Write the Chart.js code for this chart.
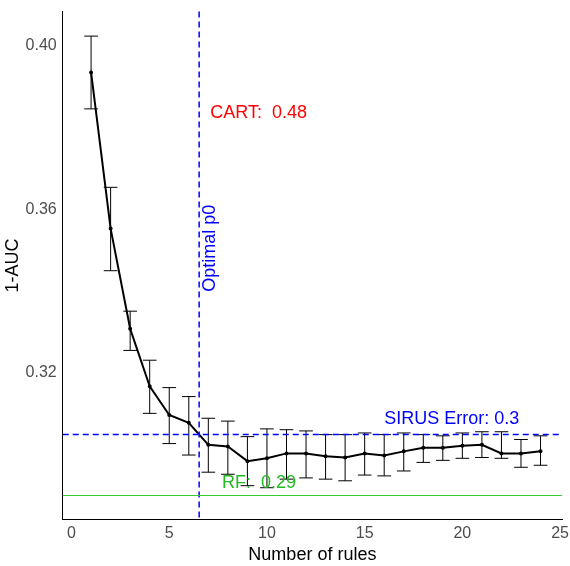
<!DOCTYPE html><html><head><style>body{margin:0;background:#fff}#w{width:570px;height:566px}</style>
<script src="https://cdn.jsdelivr.net/npm/chart.js@4"></script></head><body><div id="w"><canvas id="c"></canvas></div>
<script>
const rules=[1,2,3,4,5,6,7,8,9,10,11,12,13,14,15,16,17,18,19,20,21,22,23,24];
const err=[0.3935,0.3553,0.3308,0.3167,0.3097,0.3078,0.3024,0.3020,0.2984,0.2991,0.3003,0.3003,0.2996,0.2993,0.3003,0.2998,0.3008,0.3017,0.3017,0.3022,0.3024,0.3003,0.3003,0.3008];
const lo=[0.3846,0.3450,0.3255,0.3101,0.3027,0.2999,0.2957,0.2952,0.2924,0.2919,0.2940,0.2943,0.2940,0.2936,0.2950,0.2948,0.2960,0.2981,0.2986,0.2991,0.2993,0.2991,0.2969,0.2974];
const hi=[0.4024,0.3654,0.3351,0.3231,0.3164,0.3142,0.3089,0.3082,0.3044,0.3063,0.3061,0.3058,0.3049,0.3049,0.3053,0.3049,0.3053,0.3049,0.3046,0.3053,0.3056,0.3056,0.3037,0.3046];
const sirus=0.3049, rf=0.2900, optP0=6.53;
const extra={id:'extra',afterDatasetsDraw(ch){const {ctx,scales:{x,y},chartArea:a}=ch;ctx.save();
ctx.strokeStyle='#000';ctx.lineWidth=1;
rules.forEach((r,i)=>{const px=x.getPixelForValue(r),t=y.getPixelForValue(hi[i]),b=y.getPixelForValue(lo[i]),w=x.getPixelForValue(r+0.35)-px;
ctx.beginPath();ctx.moveTo(px,t);ctx.lineTo(px,b);ctx.moveTo(px-w,t);ctx.lineTo(px+w,t);ctx.moveTo(px-w,b);ctx.lineTo(px+w,b);ctx.stroke();});
ctx.lineWidth=1.5;ctx.strokeStyle='#0000ff';ctx.setLineDash([6,4]);
let yy=y.getPixelForValue(sirus);ctx.beginPath();ctx.moveTo(a.left,yy);ctx.lineTo(a.right,yy);ctx.stroke();
let xx=x.getPixelForValue(optP0);ctx.beginPath();ctx.moveTo(xx,a.top);ctx.lineTo(xx,a.bottom);ctx.stroke();
ctx.setLineDash([]);ctx.strokeStyle='#33cc33';ctx.lineWidth=1.2;yy=y.getPixelForValue(rf);ctx.beginPath();ctx.moveTo(a.left,yy);ctx.lineTo(a.right,yy);ctx.stroke();
ctx.font='18px "Liberation Sans", Arial';ctx.textBaseline='middle';
ctx.fillStyle='#ff0000';ctx.fillText('CART:  0.48',x.getPixelForValue(7.1),y.getPixelForValue(0.3836));
ctx.fillStyle='#0000ff';ctx.fillText('SIRUS Error: 0.3',x.getPixelForValue(16.0),y.getPixelForValue(0.3087));
ctx.fillStyle='#22bb22';ctx.fillText('RF:  0.29',x.getPixelForValue(7.7),y.getPixelForValue(0.2931));
ctx.fillStyle='#0000ff';ctx.translate(x.getPixelForValue(7.1),y.getPixelForValue(0.3505));ctx.rotate(-Math.PI/2);ctx.textAlign='center';ctx.fillText('Optimal p0',0,0);
ctx.restore();}};
const F='"Liberation Sans", Arial';
new Chart(document.getElementById('c'),{type:'line',data:{labels:rules,datasets:[{data:rules.map((r,i)=>({x:r,y:err[i]})),borderColor:'#000',backgroundColor:'#000',borderWidth:2,pointRadius:1,tension:0}]},
options:{responsive:true,maintainAspectRatio:false,animation:false,layout:{padding:{top:0,right:6,left:2,bottom:0}},plugins:{legend:{display:false},tooltip:{enabled:false}},
scales:{x:{type:'linear',min:-0.45,max:25.1,grid:{display:false,tickLength:4,tickColor:'#333'},border:{color:'#000'},ticks:{padding:1,color:'#4d4d4d',font:{size:16,family:F}},afterBuildTicks:s=>{s.ticks=[0,5,10,15,20,25].map(v=>({value:v}));},title:{display:true,text:'Number of rules',color:'#000',font:{size:18,family:F},padding:0}},
y:{min:0.2842,max:0.4084,grid:{display:false,tickLength:4,tickColor:'#333'},border:{color:'#000'},afterBuildTicks:s=>{s.ticks=[0.32,0.36,0.40].map(v=>({value:v}));},ticks:{padding:2,color:'#4d4d4d',font:{size:16,family:F},callback:v=>v.toFixed(2)},title:{display:true,text:'1-AUC',color:'#000',font:{size:18,family:F},padding:0}}}},plugins:[extra]});
</script></body></html>
